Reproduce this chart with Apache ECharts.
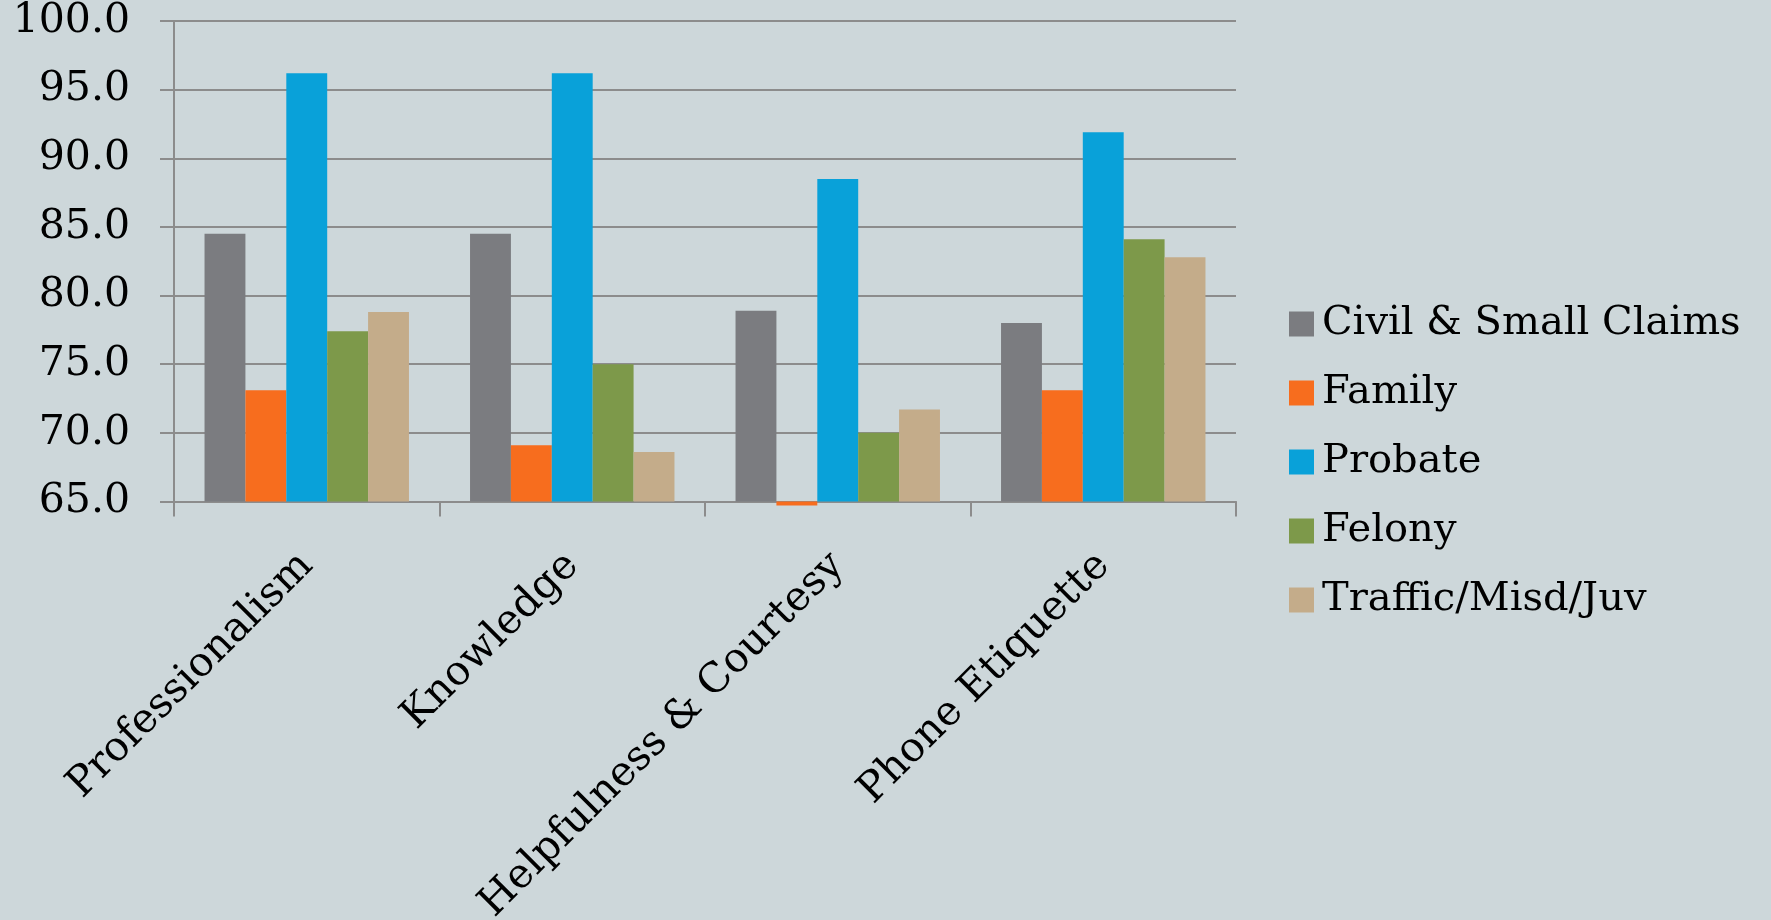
<!DOCTYPE html>
<html>
<head>
<meta charset="utf-8">
<script src="https://cdn.jsdelivr.net/npm/echarts@6/dist/echarts.min.js"></script>
<style>
html,body{margin:0;padding:0;background:#CDD7DA;}
#chart{width:1771px;height:920px;}
</style>
</head>
<body>
<div id="chart"></div>
<script>
const categories = ['Professionalism', 'Knowledge', 'Helpfulness & Courtesy', 'Phone Etiquette'];
const seriesNames = ['Civil & Small Claims', 'Family', 'Probate', 'Felony', 'Traffic/Misd/Juv'];
const civil   = [84.5, 84.5, 78.9, 78.0];
const family  = [73.1, 69.1, 64.7, 73.1];
const probate = [96.2, 96.2, 88.5, 91.9];
const felony  = [77.4, 75.0, 70.0, 84.1];
const traffic = [78.8, 68.6, 71.7, 82.8];
const colors = ['#7B7C80', '#F76D1E', '#09A1D9', '#7D994A', '#C4AC8A'];
const yMin = 65, yMax = 100, yStep = 5;

const allValues = [civil, family, probate, felony, traffic];
const FONT = 'DejaVu Serif';
const series = [];
seriesNames.forEach((n, i) => {
  // invisible base from 0 up to the axis minimum, so each bar starts at the axis floor
  series.push({
    name: '_base' + i, type: 'bar', stack: 's' + i, stackStrategy: 'all',
    data: allValues[i].map(() => yMin),
    itemStyle: { color: 'transparent' }, silent: true,
    barGap: '0%', barCategoryGap: '23%'
  });
  series.push({
    name: n, type: 'bar', stack: 's' + i, stackStrategy: 'all',
    data: allValues[i].map(v => +(v - yMin).toFixed(2)),
    clip: false,
    itemStyle: { color: colors[i] },
    barGap: '0%', barCategoryGap: '23%'
  });
});

const chart = echarts.init(document.getElementById('chart'));
chart.setOption({
  backgroundColor: '#CDD7DA',
  animation: false,
  color: colors,
  grid: { left: 174, right: 535, top: 21, bottom: 418.5, containLabel: false, outerBoundsMode: 'none' },
  legend: {
    orient: 'vertical',
    left: 1284,
    top: 299,
    itemWidth: 25,
    itemHeight: 25,
    itemGap: 29,
    icon: 'rect',
    textStyle: { fontFamily: FONT, fontSize: 40, color: '#000', padding: [0, 0, 0, 3] },
    data: seriesNames
  },
  xAxis: {
    type: 'category',
    data: categories,
    axisLine: { lineStyle: { color: '#8C8C8C', width: 2 } },
    axisTick: { show: true, length: 15, lineStyle: { color: '#8C8C8C', width: 2 } },
    axisLabel: { rotate: 45, fontFamily: FONT, fontSize: 41, color: '#000', margin: 58, interval: 0 }
  },
  yAxis: {
    type: 'value',
    min: yMin, max: yMax, interval: yStep,
    axisLine: { show: true, lineStyle: { color: '#8C8C8C', width: 2 } },
    axisTick: { show: true, length: 14, lineStyle: { color: '#8C8C8C', width: 2 } },
    splitLine: { show: true, lineStyle: { color: '#8C8C8C', width: 2 } },
    axisLabel: { fontFamily: FONT, fontSize: 41, color: '#000', margin: 44, formatter: v => v.toFixed(1) }
  },
  series: series
});
</script>
</body>
</html>
